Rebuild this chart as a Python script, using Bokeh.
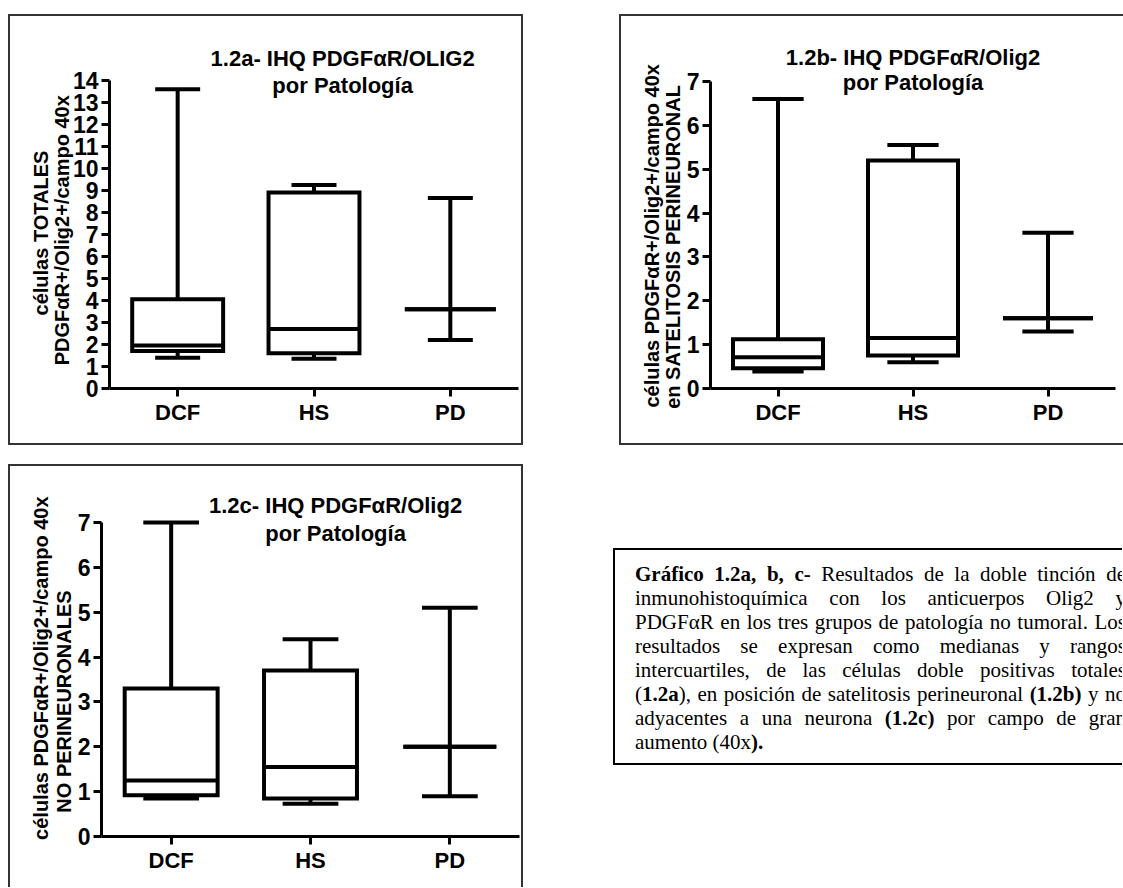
from bokeh.plotting import figure
from bokeh.models import FactorRange, Range1d, FixedTicker, Label, Div, Spacer, ColumnDataSource
from bokeh.layouts import column, row
from bokeh.transform import dodge
from bokeh.embed import file_html
from bokeh.resources import INLINE

categories = ["DCF", "HS", "PD"]

# 1.2a - total cells
a_min = [1.4, 1.35, 2.2]
a_q1 = [1.7, 1.6, 3.6]
a_med = [1.95, 2.7, 3.6]
a_q3 = [4.05, 8.9, 3.6]
a_max = [13.6, 9.25, 8.65]
a_ticks = list(range(0, 15))

# 1.2b - perineuronal satellitosis
b_min = [0.39, 0.6, 1.3]
b_q1 = [0.46, 0.75, 1.6]
b_med = [0.71, 1.15, 1.6]
b_q3 = [1.12, 5.2, 1.6]
b_max = [6.6, 5.55, 3.55]
b_ticks = list(range(0, 8))

# 1.2c - non perineuronal
c_min = [0.85, 0.73, 0.9]
c_q1 = [0.92, 0.85, 2.0]
c_med = [1.25, 1.55, 2.0]
c_q3 = [3.3, 3.7, 2.0]
c_max = [7.0, 4.4, 5.1]
c_ticks = list(range(0, 8))

titles_a = ["1.2a- IHQ PDGF\u03b1R/OLIG2", "por Patolog\u00eda"]
titles_b = ["1.2b- IHQ PDGF\u03b1R/Olig2", "por Patolog\u00eda"]
titles_c = ["1.2c- IHQ PDGF\u03b1R/Olig2", "por Patolog\u00eda"]
ylabel_a = ["c\u00e9lulas TOTALES", "PDGF\u03b1R+/Olig2+/campo  40x"]
ylabel_b = ["c\u00e9lulas PDGF\u03b1R+/Olig2+/campo 40x", "en SATELITOSIS PERINEURONAL"]
ylabel_c = ["c\u00e9lulas PDGF\u03b1R+/Olig2+/campo  40x", "NO PERINEURONALES"]

FONT = "Liberation Sans"
LW = 4
BW = 0.667
NBSP = "\u00a0"


def make_panel(width, height, mbl, mbr, mbb, y_end, ticks, mins, q1s, meds, q3s, maxs,
               ylabels, pads, lab_standoff, lab_lh, titles, tx, ty1, ty2, cap, border):
    p = figure(x_range=FactorRange(factors=categories, range_padding=0),
               y_range=Range1d(0, y_end), width=width, height=height,
               output_backend="svg", toolbar_location=None,
               min_border_left=mbl, min_border_right=mbr, min_border_top=0,
               min_border_bottom=mbb, styles=border)
    p.outline_line_color = None
    p.xgrid.visible = False
    p.ygrid.visible = False
    p.background_fill_color = "white"
    p.border_fill_color = "white"

    src = ColumnDataSource(dict(cat=categories, lo=mins, q1=q1s, med=meds, q3=q3s, hi=maxs))
    kw = dict(source=src, line_color="black", line_width=LW)
    p.segment(x0="cat", y0="lo", x1="cat", y1="q1", **kw)
    p.segment(x0="cat", y0="q3", x1="cat", y1="hi", **kw)
    p.segment(x0=dodge("cat", -cap / 2, range=p.x_range), y0="lo",
              x1=dodge("cat", cap / 2, range=p.x_range), y1="lo", **kw)
    p.segment(x0=dodge("cat", -cap / 2, range=p.x_range), y0="hi",
              x1=dodge("cat", cap / 2, range=p.x_range), y1="hi", **kw)
    p.vbar(x="cat", width=BW, bottom="q1", top="q3", fill_color="white",
           line_join="miter", **kw)
    p.segment(x0=dodge("cat", -BW / 2, range=p.x_range), y0="med",
              x1=dodge("cat", BW / 2, range=p.x_range), y1="med", **kw)

    ya = p.yaxis[0]
    ya.ticker = FixedTicker(ticks=ticks)
    ya.bounds = (ticks[0], ticks[-1])
    ya.axis_line_width = 3
    ya.axis_line_color = "black"
    ya.major_tick_line_width = 3
    ya.major_tick_line_color = "black"
    ya.major_tick_out = 8
    ya.major_tick_in = 0
    ya.minor_tick_line_color = None
    ya.major_label_text_font = FONT
    ya.major_label_text_font_style = "bold"
    ya.major_label_text_font_size = "23px"
    ya.major_label_text_color = "black"
    ya.major_label_standoff = 3
    # label lines are padded with no-break spaces so each sits where the reference has it
    ya.axis_label = "\n".join(t + NBSP * n for t, n in zip(ylabels, pads))
    ya.axis_label_text_font = FONT
    ya.axis_label_text_font_style = "bold"
    ya.axis_label_text_font_size = "20px"
    ya.axis_label_text_color = "black"
    ya.axis_label_text_line_height = lab_lh
    ya.axis_label_standoff = lab_standoff

    xa = p.xaxis[0]
    xa.axis_line_width = 3
    xa.axis_line_color = "black"
    xa.major_tick_line_width = 3
    xa.major_tick_line_color = "black"
    xa.major_tick_out = 8
    xa.major_tick_in = 0
    xa.major_label_text_font = FONT
    xa.major_label_text_font_style = "bold"
    xa.major_label_text_font_size = "22px"
    xa.major_label_text_color = "black"
    xa.major_label_standoff = 3

    for t, ty in zip(titles, [ty1, ty2]):
        p.add_layout(Label(x=tx, y=ty, text=t, text_align="center", text_baseline="middle",
                           text_font=FONT, text_font_style="bold", text_font_size="22px",
                           text_color="black"))
    return p


full_border = {"border": "2px solid #333", "box-sizing": "border-box"}
b_border = {"border": "2px solid #333", "border-right": "none", "box-sizing": "border-box"}
c_border = {"border": "2px solid #333", "border-bottom": "none", "box-sizing": "border-box"}

pa = make_panel(515, 431, 99, 7, 59, 16.9, a_ticks, a_min, a_q1, a_med, a_q3, a_max,
                ylabel_a, [11, 9], -3, 0.95,
                titles_a, 1.71, 15.0, 13.77, 0.33, full_border)
pb = make_panel(504, 431, 89, 10, 59, 8.48, b_ticks, b_min, b_q1, b_med, b_q3, b_max,
                ylabel_b, [12, 16], 0, 0.95,
                titles_b, 1.50, 7.55, 6.98, 0.38, b_border)
pc = make_panel(515, 423, 91, 6, 53, 8.25, c_ticks, c_min, c_q1, c_med, c_q3, c_max,
                ylabel_c, [5, 18], 0, 1.05,
                titles_c, 1.68, 7.38, 6.75, 0.4, c_border)

caption_lines = [
    "<b>Gr\u00e1fico 1.2a, b, c-</b> Resultados de la doble tinci\u00f3n de",
    "inmunohistoqu\u00edmica con los anticuerpos Olig2 y",
    "PDGF\u03b1R en los tres grupos de patolog\u00eda no tumoral. Los",
    "resultados se expresan como medianas y rangos",
    "intercuartiles, de las c\u00e9lulas doble positivas totales",
    "(<b>1.2a</b>), en posici\u00f3n de satelitosis perineuronal <b>(1.2b)</b> y no",
    "adyacentes a una neurona <b>(1.2c)</b> por campo de gran",
    "aumento (40x<b>)</b><b>.</b>",
]
line_html = []
for i, ln in enumerate(caption_lines):
    last = "left" if i == len(caption_lines) - 1 else "justify"
    line_html.append(
        f'<div style="text-align:justify;text-align-last:{last};white-space:normal;">{ln}</div>')
caption_html = (
    '<div style="box-sizing:border-box;width:509px;height:217px;border:2px solid #000;'
    'border-right:none;overflow:hidden;padding:12px 0 0 20px;background:white;'
    "font-family:'Liberation Serif','Times New Roman',serif;font-size:21px;line-height:24px;color:#000;\">"
    '<div style="width:491px;">' + "".join(line_html) + "</div></div>"
)
caption = Div(text=caption_html, width=509, height=217)

layout = column(
    Spacer(height=14),
    row(Spacer(width=8), pa, Spacer(width=96), pb),
    Spacer(height=19),
    row(Spacer(width=8), pc, Spacer(width=85), column(Spacer(height=79), caption)),
)

open("out.html", "w").write(file_html(layout, INLINE))
